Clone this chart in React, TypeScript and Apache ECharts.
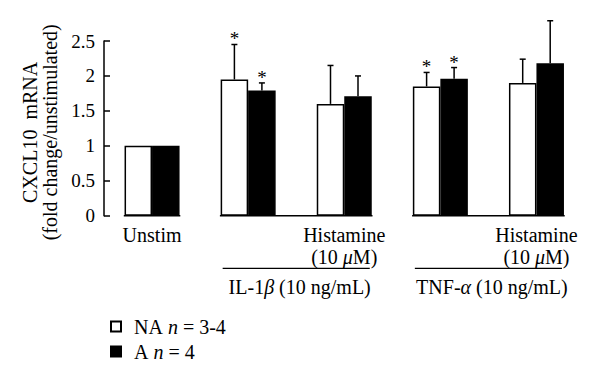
import React, { useEffect, useRef } from 'react';
import * as echarts from 'echarts';

const FONT = '"Liberation Serif", "Times New Roman", serif';

const categories = ['Unstim', 'IL-1β', 'IL-1β + Histamine', 'TNF-α', 'TNF-α + Histamine'];
const histamineFlags = [false, false, true, false, true];
const naMeans = [1, 1.95, 1.6, 1.85, 1.9];
const naUpper = [1, 2.45, 2.15, 2.05, 2.24];
const naStar = [0, 1, 0, 1, 0];
const aMeans = [1, 1.79, 1.71, 1.96, 2.18];
const aUpper = [1, 1.9, 2.0, 2.12, 2.79];
const aStar = [0, 1, 0, 1, 0];
const yMin = 0;
const yMax = 2.5;
const yInterval = 0.5;
const baseGroups = [[0, 0], [1, 2], [3, 4]];
const stimGroups = [
  { start: 1, end: 2, label: 'IL-1{i|β} (10 ng/mL)' },
  { start: 3, end: 4, label: 'TNF-{i|α} (10 ng/mL)' },
];
const legendNames = ['NA', 'A'];
const legendLabels: Record<string, string> = {
  NA: '{r|NA }{i|n}{r| = 3-4}',
  A: '{r|A }{i|n}{r| = 4}',
};

const BAR_W = 27.5;
const FS = 20;

function errRender(offset: number) {
  return (params: any, api: any) => {
    const cat = api.value(0);
    const mean = api.value(1);
    const up = api.value(2);
    const star = api.value(3);
    const children: any[] = [];
    if (up > mean) {
      const p0 = api.coord([cat, mean]);
      const p1 = api.coord([cat, up]);
      const x = p0[0] + offset;
      children.push(
        { type: 'line', shape: { x1: x, y1: p0[1], x2: x, y2: p1[1] }, style: { stroke: '#000', lineWidth: 1.5 } },
        { type: 'line', shape: { x1: x - 3, y1: p1[1], x2: x + 3, y2: p1[1] }, style: { stroke: '#000', lineWidth: 1.5 } }
      );
      if (star) {
        children.push({
          type: 'text',
          x,
          y: p1[1] + 4,
          style: { text: '*', fontSize: 19, fontFamily: FONT, fill: '#000', align: 'center', verticalAlign: 'bottom' },
        });
      }
    }
    return { type: 'group', children };
  };
}

export default function App() {
  const ref = useRef<HTMLDivElement>(null);
  useEffect(() => {
    if (!ref.current) return;
    const chart = echarts.init(ref.current, null, { renderer: 'svg' });
    const option: any = {
      animation: false,
      backgroundColor: '#fff',
      grid: { left: 104, right: 15.5, top: 41, bottom: 162.3, containLabel: false },
      legend: {
        orient: 'vertical',
        left: 105,
        top: 311,
        itemWidth: 10,
        itemHeight: 10,
        itemGap: 4,
        icon: 'rect',
        data: legendNames,
        formatter: (n: string) => legendLabels[n],
        textStyle: {
          fontFamily: FONT,
          fontSize: 20,
          lineHeight: 21,
          color: '#000',
          padding: [0, 0, 0, 8],
          rich: {
            r: { fontFamily: FONT, fontSize: 20, lineHeight: 21, color: '#000' },
            i: { fontFamily: FONT, fontSize: 20, lineHeight: 21, fontStyle: 'italic', color: '#000' },
          },
        },
      },
      xAxis: {
        type: 'category',
        data: categories,
        axisLine: { show: false },
        axisTick: { show: false },
        axisLabel: {
          interval: 0,
          margin: 8,
          color: '#000',
          fontFamily: FONT,
          fontSize: FS,
          lineHeight: 22,
          formatter: (v: string, i: number) =>
            i === 0 ? '{a|Unstim}' : histamineFlags[i] ? '{a|Histamine}\n{a|(10 }{i|μ}{a|M)}' : '',
          rich: {
            a: { fontFamily: FONT, fontSize: FS, lineHeight: 22, color: '#000' },
            i: { fontFamily: FONT, fontSize: FS, lineHeight: 22, fontStyle: 'italic', color: '#000' },
          },
        },
      },
      yAxis: {
        type: 'value',
        min: yMin,
        max: yMax,
        interval: yInterval,
        name: 'CXCL10  mRNA\n(fold change/unstimulated)',
        nameLocation: 'middle',
        nameRotate: 90,
        nameGap: 43,
        nameTextStyle: { fontFamily: FONT, fontSize: 20, lineHeight: 20, color: '#000', padding: [0, 8, 0, 0] },
        splitLine: { show: false },
        axisLine: { show: true, lineStyle: { color: '#000', width: 1.5 } },
        axisTick: { show: true, inside: true, length: 6, lineStyle: { color: '#000', width: 1.5 } },
        axisLabel: { color: '#000', fontFamily: FONT, fontSize: 19, margin: 9 },
      },
      series: [
        {
          name: 'NA',
          type: 'bar',
          data: naMeans,
          barWidth: BAR_W,
          barGap: '0%',
          itemStyle: { color: '#fff', borderColor: '#000', borderWidth: 1.5 },
        },
        {
          name: 'A',
          type: 'bar',
          data: aMeans,
          barWidth: BAR_W,
          barGap: '0%',
          itemStyle: { color: '#000', borderColor: '#000', borderWidth: 1.5 },
        },
        {
          type: 'custom',
          name: 'NA error',
          clip: false,
          z: 5,
          renderItem: errRender(-BAR_W / 2),
          encode: { x: 0, y: [1, 2] },
          data: naMeans.map((m, i) => [i, m, naUpper[i], naStar[i]]),
        },
        {
          type: 'custom',
          name: 'A error',
          clip: false,
          z: 5,
          renderItem: errRender(BAR_W / 2),
          encode: { x: 0, y: [1, 2] },
          data: aMeans.map((m, i) => [i, m, aUpper[i], aStar[i]]),
        },
        {
          type: 'custom',
          name: 'baseline',
          clip: false,
          z: 6,
          renderItem: (params: any, api: any) => {
            const s = api.coord([api.value(0), 0]);
            const e = api.coord([api.value(1), 0]);
            return {
              type: 'line',
              shape: { x1: s[0] - BAR_W - 0.75, y1: s[1], x2: e[0] + BAR_W + 0.75, y2: s[1] },
              style: { stroke: '#000', lineWidth: 1.5 },
            };
          },
          encode: { x: [0, 1], y: 2 },
          data: baseGroups.map((g) => [g[0], g[1], 0]),
        },
        {
          type: 'custom',
          name: 'groups',
          clip: false,
          z: 6,
          renderItem: (params: any, api: any) => {
            const s = api.coord([api.value(0), 0]);
            const e = api.coord([api.value(1), 0]);
            const g = stimGroups[params.dataIndex];
            const x1 = s[0] - BAR_W + 2;
            const x2 = e[0] + BAR_W - 2;
            return {
              type: 'group',
              children: [
                { type: 'line', shape: { x1, y1: s[1] + 52.6, x2, y2: s[1] + 52.6 }, style: { stroke: '#000', lineWidth: 1.2 } },
                {
                  type: 'text',
                  x: (x1 + x2) / 2 + 3.5,
                  y: s[1] + 71.5,
                  style: {
                    text: g.label,
                    align: 'center',
                    verticalAlign: 'middle',
                    fontFamily: FONT,
                    fontSize: FS,
                    fill: '#000',
                    rich: {
                      i: { fontFamily: FONT, fontSize: FS, fontStyle: 'italic', fill: '#000' },
                    },
                  },
                },
              ],
            };
          },
          encode: { x: [0, 1], y: 2 },
          data: stimGroups.map((g) => [g.start, g.end, 0]),
        },
      ],
    };
    chart.setOption(option);
    return () => chart.dispose();
  }, []);
  return (
    <div
      ref={ref}
      style={{ position: 'absolute', left: 0, top: 0, width: 600, height: 378, background: '#fff' }}
    />
  );
}
